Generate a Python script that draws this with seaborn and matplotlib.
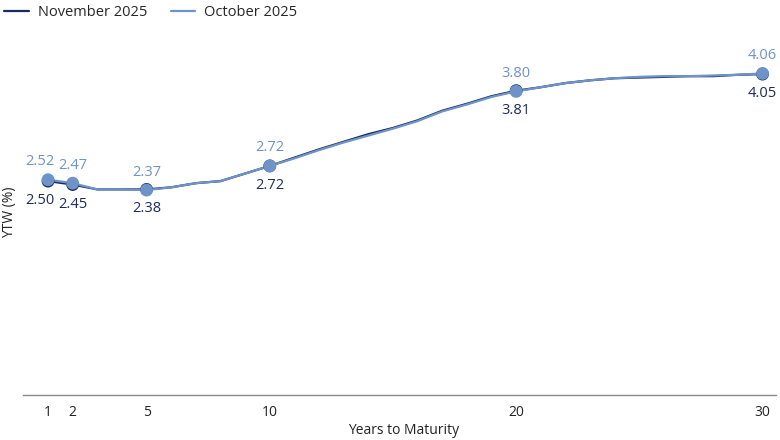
import pandas as pd
import matplotlib.pyplot as plt
import seaborn as sns

# Yield curve, years 1..30
years = list(range(1, 31))
nov_2025 = [2.50, 2.45, 2.38, 2.38, 2.38, 2.41, 2.47, 2.50, 2.61, 2.72,
            2.84, 2.96, 3.07, 3.18, 3.27, 3.38, 3.52, 3.62, 3.73, 3.81,
            3.86, 3.92, 3.96, 3.99, 4.00, 4.01, 4.02, 4.02, 4.04, 4.05]
oct_2025 = [2.52, 2.47, 2.38, 2.38, 2.37, 2.41, 2.47, 2.50, 2.61, 2.72,
            2.83, 2.95, 3.06, 3.16, 3.26, 3.37, 3.51, 3.61, 3.72, 3.80,
            3.86, 3.92, 3.96, 3.99, 4.01, 4.02, 4.02, 4.03, 4.04, 4.06]
key_years = [1, 2, 5, 10, 20, 30]

series_names = ['November 2025', 'October 2025']
colors = {'November 2025': '#1c2b5c', 'October 2025': '#6e93c8'}

df = pd.DataFrame({
    'Years': years * 2,
    'YTW': nov_2025 + oct_2025,
    'Series': ['November 2025'] * len(years) + ['October 2025'] * len(years),
})
key_df = df[df['Years'].isin(key_years)]

sns.set_style('white')
plt.rcParams['font.family'] = ['Open Sans', 'DejaVu Sans']

fig = plt.figure(figsize=(7.8, 4.4), dpi=100)
ax = fig.add_axes([0.030, 0.102, 0.965, 0.830])

sns.lineplot(data=df, x='Years', y='YTW', hue='Series', hue_order=series_names,
             palette=colors, linewidth=1.6, ax=ax)
sns.scatterplot(data=key_df, x='Years', y='YTW', hue='Series', hue_order=series_names,
                palette=colors, s=85, edgecolor='none', legend=False, ax=ax, zorder=3)

# value labels: October above, November below
for name, vals, dy in [('October 2025', oct_2025, 13), ('November 2025', nov_2025, -14)]:
    for yr in key_years:
        v = vals[yr - 1]
        dx = -6 if yr == 1 else 0
        ax.annotate(f'{v:.2f}', (yr, v), xytext=(dx, dy), textcoords='offset points',
                    ha='center', va='center', fontsize=10.5, color=colors[name])

ax.set_xlim(0, 30.55)
ax.set_ylim(-0.6, 4.69)
ax.set_xticks(key_years)
ax.set_yticks([])
ax.tick_params(axis='x', length=0, labelsize=10, pad=7, colors='#222222')
for side in ['top', 'right', 'left']:
    ax.spines[side].set_visible(False)
ax.spines['bottom'].set_color('#8c8c8c')
ax.spines['bottom'].set_linewidth(1.0)

ax.set_xlabel('Years to Maturity', fontsize=10, color='#222222')
ax.xaxis.set_label_coords(0.505, -0.075)
ax.set_ylabel('YTW (%)', fontsize=10, color='#222222')
ax.yaxis.set_label_coords(-0.008, 0.5)

handles, labels = ax.get_legend_handles_labels()
ax.get_legend().remove()
fig.legend(handles, labels, loc='center left', bbox_to_anchor=(-0.002, 0.972), ncol=2,
           frameon=False, fontsize=10.5, handlelength=1.7, handletextpad=0.6,
           columnspacing=1.6, borderaxespad=0)

fig.savefig('out.png', dpi=100)
